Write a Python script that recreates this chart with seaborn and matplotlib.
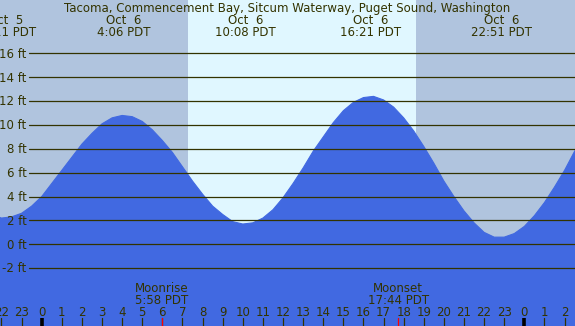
"""
Tide chart for Tacoma, Commencement Bay (Oct 5-7), redrawn with seaborn.
"""

import matplotlib

matplotlib.use("Agg")
import matplotlib.pyplot as plt
import numpy as np
import pandas as pd
import seaborn as sns


TITLE = "Tacoma, Commencement Bay, Sitcum Waterway, Puget Sound, Washington"

# tide height (ft), every half hour, hours relative to Oct 6 00:00
HOURS = [-2.5, -2.0, -1.5, -1.0, -0.5, 0.0, 0.5, 1.0, 1.5, 2.0,
         2.5, 3.0, 3.5, 4.0, 4.5, 5.0, 5.5, 6.0, 6.5, 7.0,
         7.5, 8.0, 8.5, 9.0, 9.5, 10.0, 10.5, 11.0, 11.5, 12.0,
         12.5, 13.0, 13.5, 14.0, 14.5, 15.0, 15.5, 16.0, 16.5, 17.0,
         17.5, 18.0, 18.5, 19.0, 19.5, 20.0, 20.5, 21.0, 21.5, 22.0,
         22.5, 23.0, 23.5, 24.0, 24.5, 25.0, 25.5, 26.0, 26.5, 27.0]
HEIGHTS = [2.5, 2.2, 2.3, 2.6, 3.2, 4.0, 5.1, 6.2, 7.3, 8.4,
           9.3, 10.1, 10.6, 10.8, 10.7, 10.3, 9.6, 8.7, 7.7, 6.5,
           5.3, 4.2, 3.2, 2.5, 1.9, 1.7, 1.8, 2.2, 2.9, 3.9,
           5.1, 6.4, 7.8, 9.0, 10.2, 11.2, 11.9, 12.3, 12.4, 12.1,
           11.5, 10.6, 9.5, 8.2, 6.8, 5.3, 4.0, 2.8, 1.8, 1.0,
           0.6, 0.6, 0.9, 1.5, 2.4, 3.5, 4.8, 6.2, 7.8, 8.9]

# high / low tide events
EVENT_DAYS = ["Oct  5", "Oct  6", "Oct  6", "Oct  6", "Oct  6"]
EVENT_TIMES = ["22:11 PDT", "4:06 PDT", "10:08 PDT", "16:21 PDT", "22:51 PDT"]
EVENT_OFFSETS = [-24, 0, 0, 0, 0]

MOON_EVENTS = ["Moonrise", "Moonset"]
MOON_TIMES = ["5:58 PDT", "17:44 PDT"]

SUNRISE = "7:16"
SUNSET = "18:38"

Y_TICKS = [-2, 0, 2, 4, 6, 8, 10, 12, 14, 16]
HOUR_TICKS = list(range(-2, 27))

NIGHT = "#b0c4de"
DAY = "#e0f7ff"
WATER = "#4169e1"
INK = "#333300"

# pixel layout of the original image
W, H = 575, 326
X_ZERO, PX_HOUR = 41.7, 20.11
Y_ZERO, PX_FT = 244.3, 11.93


def to_hours(text, offset=0):
    hh, mm = text.split()[0].split(":")
    return offset + int(hh) + int(mm) / 60


def px_x(px):
    return (px - X_ZERO) / PX_HOUR


def px_y(px):
    return (Y_ZERO - px) / PX_FT


def main():
    sns.set_theme(style="white")
    plt.rcParams["font.family"] = ["DejaVu Sans"]

    fig = plt.figure(figsize=(W / 100, H / 100), dpi=100)
    ax = fig.add_axes([0, 0, 1, 1])
    ax.set_xlim(px_x(0), px_x(W))
    ax.set_ylim(px_y(H), px_y(0))
    ax.set_axis_off()

    # night / day background
    sunrise = to_hours(SUNRISE)
    sunset = to_hours(SUNSET)
    ax.axvspan(px_x(0), sunrise, color=NIGHT, lw=0, zorder=0)
    ax.axvspan(sunrise, sunset, color=DAY, lw=0, zorder=0)
    ax.axvspan(sunset, px_x(W), color=NIGHT, lw=0, zorder=0)

    df = pd.DataFrame({"hour": HOURS, "height": HEIGHTS})
    ax.fill_between(df["hour"], df["height"], px_y(H) - 1, color=WATER, lw=0, zorder=1)
    sns.lineplot(data=df, x="hour", y="height", ax=ax, color=WATER, lw=0.8, zorder=1)

    fs = 8.5
    # height grid and labels
    for ft in Y_TICKS:
        ax.plot([px_x(29), px_x(W)], [ft, ft], color=INK, lw=0.9, zorder=2)
        ax.text(px_x(26.5), ft - 4.3 / PX_FT, f"{ft} ft", ha="right", va="baseline",
                fontsize=fs, color=INK, zorder=3)

    ax.text(px_x(W / 2), px_y(12), TITLE, ha="center", va="baseline", fontsize=fs, color=INK)
    for day, tm, off in zip(EVENT_DAYS, EVENT_TIMES, EVENT_OFFSETS):
        hx = to_hours(tm, off)
        ax.text(hx, px_y(24), day, ha="center", va="baseline", fontsize=fs, color=INK)
        ax.text(hx, px_y(36), tm, ha="center", va="baseline", fontsize=fs, color=INK)

    # hour ticks along the bottom
    tick_top, tick_bot = px_y(318), px_y(H)
    for hr in HOUR_TICKS:
        if hr % 24 == 0:
            ax.plot([hr, hr], [tick_top, tick_bot], color="black", lw=2.6, zorder=3,
                    solid_capstyle="butt")
        else:
            ax.plot([hr, hr], [tick_top, tick_bot], color=INK, lw=0.9, zorder=3)
        ax.text(hr, px_y(316), str(hr % 24), ha="center", va="baseline", fontsize=fs, color=INK)

    for name, tm in zip(MOON_EVENTS, MOON_TIMES):
        hx = to_hours(tm)
        ax.plot([hx, hx], [tick_top, tick_bot], color="red", lw=0.9, zorder=4)
        ax.text(hx, px_y(292), name, ha="center", va="baseline", fontsize=fs, color=INK)
        ax.text(hx, px_y(304.3), tm, ha="center", va="baseline", fontsize=fs, color=INK)

    fig.savefig("out.png", dpi=100)
    plt.close(fig)


if __name__ == "__main__":
    main()
